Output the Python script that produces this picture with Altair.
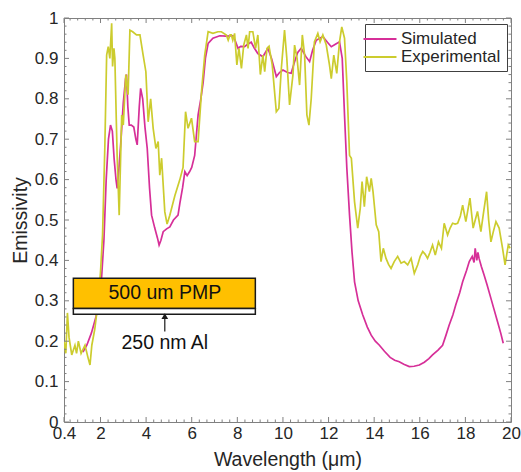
import altair as alt
import pandas as pd

# ---------------- data ----------------
sim_x = [1.23, 1.4, 1.6, 1.8, 1.95, 2.05, 2.15, 2.25, 2.35, 2.44, 2.52, 2.6, 2.68, 2.73, 2.8, 2.9, 3.0, 3.1, 3.14,
         3.2, 3.26, 3.35, 3.46, 3.55, 3.61, 3.7, 3.76, 3.85, 3.95, 4.05, 4.15, 4.24, 4.38, 4.5, 4.57, 4.65, 4.75,
         4.9, 5.04, 5.2, 5.4, 5.48, 5.6, 5.7, 5.8, 5.91, 6.0, 6.13, 6.28, 6.4, 6.5, 6.6, 6.72, 6.93, 7.23, 7.5,
         7.81, 7.9, 8.03, 8.15, 8.32, 8.45, 8.61, 8.75, 8.9, 9.12, 9.34, 9.5, 9.71, 9.85, 10.0, 10.2, 10.36, 10.5,
         10.65, 10.8, 11.0, 11.17, 11.3, 11.46, 11.75, 11.95, 12.12, 12.3, 12.48, 12.6, 12.7, 12.8, 12.92, 13.03,
         13.14, 13.3, 13.5, 13.7, 13.87, 14.05, 14.23, 14.45, 14.7, 14.9, 15.1, 15.3, 15.54, 15.75, 15.98, 16.2,
         16.4, 16.56, 16.8, 17.0, 17.15, 17.29, 17.45, 17.58, 17.75, 17.88, 18.05, 18.17, 18.3, 18.38, 18.43,
         18.5, 18.55, 18.6, 18.7, 18.82, 18.95, 19.12, 19.25, 19.41, 19.55, 19.66]
sim_y = [0.173, 0.19, 0.22, 0.26, 0.30, 0.36, 0.45, 0.60, 0.70, 0.735, 0.72, 0.65, 0.60, 0.578, 0.62, 0.70, 0.79,
         0.85, 0.86, 0.78, 0.735, 0.735, 0.73, 0.70, 0.686, 0.78, 0.826, 0.80, 0.73, 0.677, 0.58, 0.512, 0.48,
         0.455, 0.438, 0.45, 0.471, 0.478, 0.483, 0.50, 0.512, 0.541, 0.58, 0.62, 0.61, 0.62, 0.63, 0.66, 0.76,
         0.80, 0.84, 0.90, 0.937, 0.95, 0.956, 0.955, 0.956, 0.945, 0.925, 0.93, 0.929, 0.935, 0.94, 0.925, 0.912,
         0.904, 0.925, 0.90, 0.855, 0.865, 0.871, 0.865, 0.863, 0.89, 0.915, 0.925, 0.905, 0.892, 0.92, 0.945,
         0.954, 0.94, 0.929, 0.935, 0.941, 0.90, 0.76, 0.63, 0.512, 0.42, 0.347, 0.30, 0.265, 0.235, 0.215, 0.20,
         0.19, 0.175, 0.16, 0.153, 0.149, 0.143, 0.137, 0.138, 0.141, 0.148, 0.157, 0.166, 0.178, 0.19, 0.215,
         0.24, 0.265, 0.29, 0.32, 0.347, 0.375, 0.397, 0.41, 0.395, 0.43, 0.40, 0.42, 0.405, 0.385, 0.364, 0.34,
         0.306, 0.28, 0.248, 0.22, 0.195]

exp_x = [0.4, 0.48, 0.55, 0.62, 0.74, 0.88, 0.95, 1.03, 1.15, 1.32, 1.45, 1.54, 1.62, 1.75, 1.9, 2.0, 2.09, 2.19,
         2.27, 2.34, 2.41, 2.49, 2.53, 2.59, 2.63, 2.73, 2.82, 2.93, 3.0, 3.11, 3.21, 3.29, 3.41, 3.58, 3.73, 3.87,
         3.99, 4.09, 4.2, 4.31, 4.43, 4.53, 4.6, 4.68, 4.82, 4.92, 5.04, 5.26, 5.48, 5.62, 5.73, 5.84, 5.99, 6.13,
         6.28, 6.43, 6.57, 6.72, 6.93, 7.15, 7.3, 7.52, 7.6, 7.68, 7.74, 7.8, 7.88, 7.98, 8.07, 8.18, 8.28, 8.4,
         8.47, 8.54, 8.68, 8.8, 8.9, 9.01, 9.12, 9.2, 9.3, 9.39, 9.53, 9.71, 9.82, 9.93, 10.07, 10.17, 10.29,
         10.44, 10.51, 10.62, 10.73, 10.85, 10.95, 11.05, 11.14, 11.24, 11.38, 11.53, 11.63, 11.75, 11.9, 12.04,
         12.12, 12.23, 12.36, 12.48, 12.58, 12.7, 12.8, 12.92, 13.0, 13.14, 13.28, 13.39, 13.47, 13.57, 13.67,
         13.79, 13.87, 13.95, 14.09, 14.2, 14.3, 14.4, 14.52, 14.63, 14.74, 14.88, 15.03, 15.18, 15.32, 15.47,
         15.62, 15.76, 15.91, 16.02, 16.13, 16.24, 16.34, 16.45, 16.56, 16.68, 16.82, 16.95, 17.07, 17.22, 17.33,
         17.44, 17.55, 17.66, 17.78, 17.88, 18.02, 18.2, 18.34, 18.53, 18.68, 18.8, 18.93, 19.02, 19.12, 19.22,
         19.34, 19.48, 19.63, 19.74, 19.88, 19.96]
exp_y = [0.20, 0.17, 0.27, 0.21, 0.166, 0.19, 0.17, 0.20, 0.17, 0.19, 0.16, 0.141, 0.19, 0.23, 0.30, 0.37, 0.463,
         0.68, 0.908, 0.929, 0.90, 0.987, 0.88, 0.925, 0.90, 0.66, 0.512, 0.76, 0.735, 0.86, 0.81, 0.97, 0.966,
         0.958, 0.958, 0.908, 0.867, 0.743, 0.80, 0.727, 0.677, 0.694, 0.611, 0.653, 0.52, 0.49, 0.512, 0.56,
         0.60, 0.63, 0.768, 0.727, 0.752, 0.694, 0.694, 0.818, 0.908, 0.966, 0.962, 0.966, 0.966, 0.958, 0.945,
         0.958, 0.958, 0.945, 0.962, 0.884, 0.925, 0.875, 0.933, 0.958, 0.925, 0.966, 0.966, 0.925, 0.958, 0.86,
         0.908, 0.867, 0.925, 0.93, 0.884, 0.768, 0.776, 0.875, 0.97, 0.90, 0.785, 0.86, 0.933, 0.90, 0.834,
         0.958, 0.908, 0.76, 0.735, 0.80, 0.941, 0.962, 0.941, 0.958, 0.933, 0.884, 0.85, 0.908, 0.863, 0.941,
         0.978, 0.95, 0.842, 0.66, 0.653, 0.545, 0.48, 0.529, 0.595, 0.533, 0.607, 0.57, 0.603, 0.57, 0.488,
         0.471, 0.397, 0.43, 0.405, 0.39, 0.38, 0.397, 0.41, 0.393, 0.397, 0.389, 0.405, 0.368, 0.389, 0.41,
         0.422, 0.415, 0.405, 0.42, 0.438, 0.413, 0.446, 0.43, 0.492, 0.463, 0.48, 0.492, 0.49, 0.492, 0.51,
         0.537, 0.496, 0.554, 0.48, 0.521, 0.471, 0.52, 0.57, 0.50, 0.446, 0.47, 0.496, 0.48, 0.43, 0.389,
         0.438, 0.43]

series_names = ["Simulated", "Experimental"]
series_colors = ["#d62f98", "#cccc2e"]

x_major = [0.4, 2, 4, 6, 8, 10, 12, 14, 16, 18, 20]
x_minor = [0.6667, 1.0, 1.3333, 1.6667] + [round(2 + k / 3, 4) for k in range(0, 55) if k % 6 != 0]
y_major = [round(i / 10, 1) for i in range(11)]
y_minor = [round(i / 50, 2) for i in range(51) if i % 5 != 0]

# inset (structure diagram) annotation, in data units
box_x0, box_x1 = 0.81, 8.79
pmp_top, pmp_bot, al_bot = 0.356, 0.281, 0.267
arrow_x, arrow_base, arrow_tip = 4.82, 0.224, 0.262
pmp_label, al_label = "500 um PMP", "250 nm Al"
pmp_label_y, al_label_y = 0.3185, 0.196

# ---------------- chart ----------------
W, H = 447, 404
FONT = "Liberation Sans"
TXT = "#262626"
GRAY = "#808080"

df = pd.DataFrame({
    "x": sim_x + exp_x,
    "y": sim_y + exp_y,
    "series": ["Simulated"] * len(sim_x) + ["Experimental"] * len(exp_x),
    "ord": [0] * len(sim_x) + [1] * len(exp_x),
})

xscale = alt.Scale(domain=[0.4, 20], nice=False, zero=False)
yscale = alt.Scale(domain=[0, 1], nice=False, zero=True)

lines = alt.Chart(df).mark_line(strokeWidth=1.7, clip=True).encode(
    x=alt.X("x:Q", scale=xscale,
            axis=alt.Axis(values=x_major, format="~g", title="Wavelength (μm)")),
    y=alt.Y("y:Q", scale=yscale,
            axis=alt.Axis(values=y_major, format="~g", title="Emissivity")),
    color=alt.Color("series:N",
                    scale=alt.Scale(domain=series_names, range=series_colors),
                    legend=alt.Legend(title=None, orient="none", legendX=301, legendY=6,
                                      symbolType="M-2.06,0H2.06", symbolSize=256, symbolStrokeWidth=2,
                                      labelFontSize=17, labelFont=FONT, labelColor=TXT,
                                      fillColor="white", strokeColor="#404040", padding=6,
                                      rowPadding=1, labelOffset=12)),
    detail="ord:O",
    order="ord:O",
)

def tick_layer(vals, channel, p0, p1):
    d = pd.DataFrame({"v": vals})
    if channel == "x":
        return alt.Chart(d).mark_rule(color=GRAY, strokeWidth=1).encode(
            x=alt.X("v:Q", scale=xscale), y=alt.value(p0), y2=alt.value(p1))
    return alt.Chart(d).mark_rule(color=GRAY, strokeWidth=1).encode(
        y=alt.Y("v:Q", scale=yscale), x=alt.value(p0), x2=alt.value(p1))

ticks = [
    tick_layer(x_major, "x", H, H - 5), tick_layer(x_major, "x", 0, 5),
    tick_layer(x_minor, "x", H, H - 2.5), tick_layer(x_minor, "x", 0, 2.5),
    tick_layer(y_major, "y", 0, 5), tick_layer(y_major, "y", W, W - 5),
    tick_layer(y_minor, "y", 0, 2.5), tick_layer(y_minor, "y", W, W - 2.5),
]

box_df = pd.DataFrame({"x0": [box_x0, box_x0], "x1": [box_x1, box_x1],
                       "y0": [pmp_bot, al_bot], "y1": [pmp_top, pmp_bot],
                       "fill": ["#ffc000", "#ffffff"]})
boxes = alt.Chart(box_df).mark_rect(stroke="#1a1a1a", strokeWidth=1.5).encode(
    x=alt.X("x0:Q", scale=xscale), x2="x1:Q",
    y=alt.Y("y0:Q", scale=yscale), y2="y1:Q",
    fill=alt.Fill("fill:N", scale=None, legend=None),
)

arrow_df = pd.DataFrame({"x": [arrow_x], "y0": [arrow_base], "y1": [arrow_tip]})
arrow_line = alt.Chart(arrow_df).mark_rule(color="#1a1a1a", strokeWidth=1.2).encode(
    x=alt.X("x:Q", scale=xscale), y=alt.Y("y0:Q", scale=yscale), y2="y1:Q")
arrow_head = alt.Chart(arrow_df).mark_point(shape="triangle-up", filled=True, size=45,
                                            color="#1a1a1a", opacity=1).encode(
    x=alt.X("x:Q", scale=xscale), y=alt.Y("y1:Q", scale=yscale))

lab_df = pd.DataFrame({"x": [arrow_x, arrow_x], "y": [pmp_label_y, al_label_y],
                       "t": [pmp_label, al_label]})
labels = alt.Chart(lab_df).mark_text(font=FONT, fontSize=19.5, color="#111111",
                                     align="center", baseline="middle").encode(
    x=alt.X("x:Q", scale=xscale), y=alt.Y("y:Q", scale=yscale), text="t:N")

chart = alt.layer(lines, *ticks, boxes, arrow_line, arrow_head, labels).properties(
    width=W, height=H,
    autosize=alt.AutoSizeParams(type="none"),
    padding={"left": 64, "top": 18, "right": 10, "bottom": 50},
    background="white",
).configure_view(stroke=GRAY, strokeWidth=1).configure_axis(
    ticks=False, domain=False, grid=False,
    labelFont=FONT, labelFontSize=17, labelColor=TXT,
    titleFont=FONT, titleFontSize=19.5, titleFontWeight="normal", titleColor=TXT,
).configure_axisX(labelPadding=3, titlePadding=9, labelFlush=False).configure_axisY(
    labelPadding=6, titlePadding=4
)

chart.save("out.html", embed_options={"renderer": "svg", "actions": False})
